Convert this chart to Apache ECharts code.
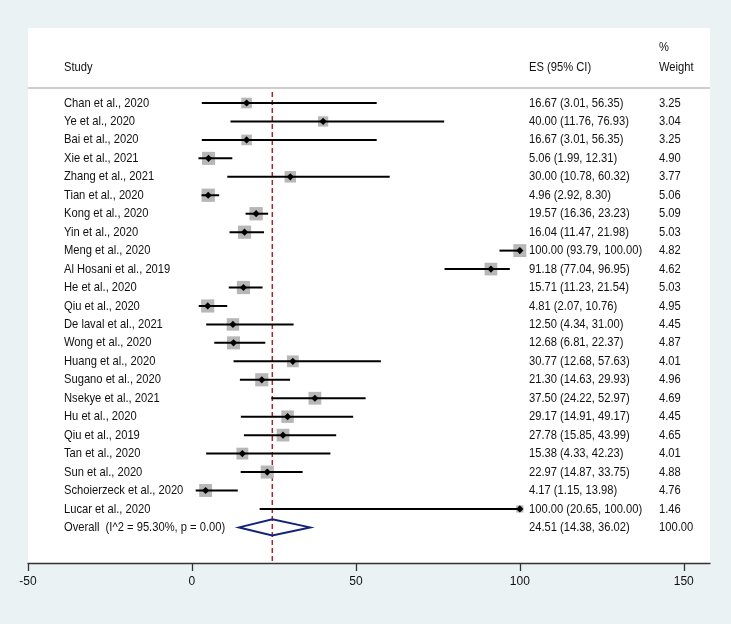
<!DOCTYPE html>
<html><head><meta charset="utf-8">
<script src="https://cdn.jsdelivr.net/npm/echarts@6/dist/echarts.min.js"></script>
<style>html,body{margin:0;padding:0;background:#eaf2f3}#c{width:731px;height:624px}</style>
</head><body><div id="c"></div>
<script>
const names = ["Chan et al., 2020","Ye et al., 2020","Bai et al., 2020","Xie et al., 2021","Zhang et al., 2021","Tian et al., 2020","Kong et al., 2020","Yin et al., 2020","Meng et al., 2020","Al Hosani et al., 2019","He et al., 2020","Qiu et al., 2020","De laval et al., 2021","Wong et al., 2020","Huang et al., 2020","Sugano et al., 2020","Nsekye et al., 2021","Hu et al., 2020","Qiu et al., 2019","Tan et al., 2020","Sun et al., 2020","Schoierzeck et al., 2020","Lucar et al., 2020"];
const es = [16.67,40.00,16.67,5.06,30.00,4.96,19.57,16.04,100.00,91.18,15.71,4.81,12.50,12.68,30.77,21.30,37.50,29.17,27.78,15.38,22.97,4.17,100.00];
const lo = [3.01,11.76,3.01,1.99,10.78,2.92,16.36,11.47,93.79,77.04,11.23,2.07,4.34,6.81,12.68,14.63,24.22,14.91,15.85,4.33,14.87,1.15,20.65];
const hi = [56.35,76.93,56.35,12.31,60.32,8.30,23.23,21.98,100.00,96.95,21.54,10.76,31.00,22.37,57.63,29.93,52.97,49.17,43.99,42.23,33.75,13.98,100.00];
const weights = [3.25,3.04,3.25,4.90,3.77,5.06,5.09,5.03,4.82,4.62,5.03,4.95,4.45,4.87,4.01,4.96,4.69,4.45,4.65,4.01,4.88,4.76,1.46];
const overallLabel = "Overall  (I^2 = 95.30%, p = 0.00)";
const overall = {es: 24.51, lo: 14.38, hi: 36.02, weight: 100.00};
const xTicks = [-50, 0, 50, 100, 150];

const FONT = '13px "Liberation Sans", Arial, sans-serif';
const SX = 0.86;
const TXT = '#111';
function txt(x, y, text) {
  return {type:'text', x: x, y: y, scaleX: SX, style:{text: text, font: FONT, fill: TXT, verticalAlign:'middle', align:'left'}};
}
function ci(e, l, h) { return e.toFixed(2) + ' (' + l.toFixed(2) + ', ' + h.toFixed(2) + ')'; }
const COL_NAME = 64, COL_ES = 529, COL_W = 659;
const oRow = names.length;

const chart = echarts.init(document.getElementById('c'));
chart.setOption({
  animation: false,
  backgroundColor: '#eaf2f3',
  grid: {left: 28, right: 21, top: 28, bottom: 61, show: true, backgroundColor: '#ffffff', borderWidth: 0},
  xAxis: {
    type: 'value', min: -50, max: 158,
    splitLine: {show: false},
    axisLine: {show: true, onZero: false, lineStyle: {color: '#333', width: 1.3}},
    axisTick: {show: true, length: 8, customValues: xTicks, lineStyle: {color: '#333', width: 1.3}},
    axisLabel: {customValues: xTicks, margin: 13, fontSize: 12, color: '#111', fontFamily: 'Liberation Sans'}
  },
  yAxis: {type: 'value', inverse: true, min: -4.065, max: 24.93, show: false},
  graphic: [
    {type:'line', shape:{x1:28, y1:88, x2:710, y2:88}, style:{stroke:'#bdbdbd', lineWidth:1.5}, z: 10},
    txt(COL_NAME, 67, 'Study'),
    txt(COL_ES, 67, 'ES (95% CI)'),
    txt(COL_W, 47, '%'),
    txt(COL_W, 67, 'Weight')
  ],
  series: [
    {
      type: 'line', z: 1, symbol: 'none', silent: true,
      data: [[overall.es, -0.6], [overall.es, 24.93]],
      lineStyle: {color: '#a3262c', width: 1.5, type: [5, 3]}
    },
    {
      type: 'custom', z: 3, clip: false,
      data: es.map((v, i) => [v, i]),
      encode: {x: 0, y: 1},
      renderItem: function (params, api) {
        const i = params.dataIndex;
        const c = api.coord([es[i], i]);
        const a = api.coord([lo[i], i]);
        const b = api.coord([hi[i], i]);
        const s = 5.9 * Math.sqrt(weights[i]);
        const y = c[1];
        return {type: 'group', children: [
          {type:'rect', shape:{x:c[0]-s/2, y:y-s/2, width:s, height:s}, style:{fill:'#b7b7b7'}},
          {type:'line', shape:{x1:a[0], y1:y, x2:b[0], y2:y}, style:{stroke:'#000', lineWidth:2}},
          {type:'polygon', shape:{points:[[c[0]-3.6,y],[c[0],y-3.6],[c[0]+3.6,y],[c[0],y+3.6]]}, style:{fill:'#000'}},
          txt(COL_NAME, y, names[i]),
          txt(COL_ES, y, ci(es[i], lo[i], hi[i])),
          txt(COL_W, y, weights[i].toFixed(2))
        ]};
      }
    },
    {
      type: 'custom', z: 3, clip: false,
      data: [[overall.es, oRow]],
      encode: {x: 0, y: 1},
      renderItem: function (params, api) {
        const c = api.coord([overall.es, oRow]);
        const a = api.coord([overall.lo, oRow]);
        const b = api.coord([overall.hi, oRow]);
        const y = c[1], h = 8;
        return {type: 'group', children: [
          {type:'polygon', shape:{points:[[a[0],y],[c[0],y-h],[b[0],y],[c[0],y+h]]}, style:{fill:'none', stroke:'#14237a', lineWidth:2}},
          txt(COL_NAME, y, overallLabel),
          txt(COL_ES, y, ci(overall.es, overall.lo, overall.hi)),
          txt(COL_W, y, overall.weight.toFixed(2))
        ]};
      }
    }
  ]
});
</script></body></html>
